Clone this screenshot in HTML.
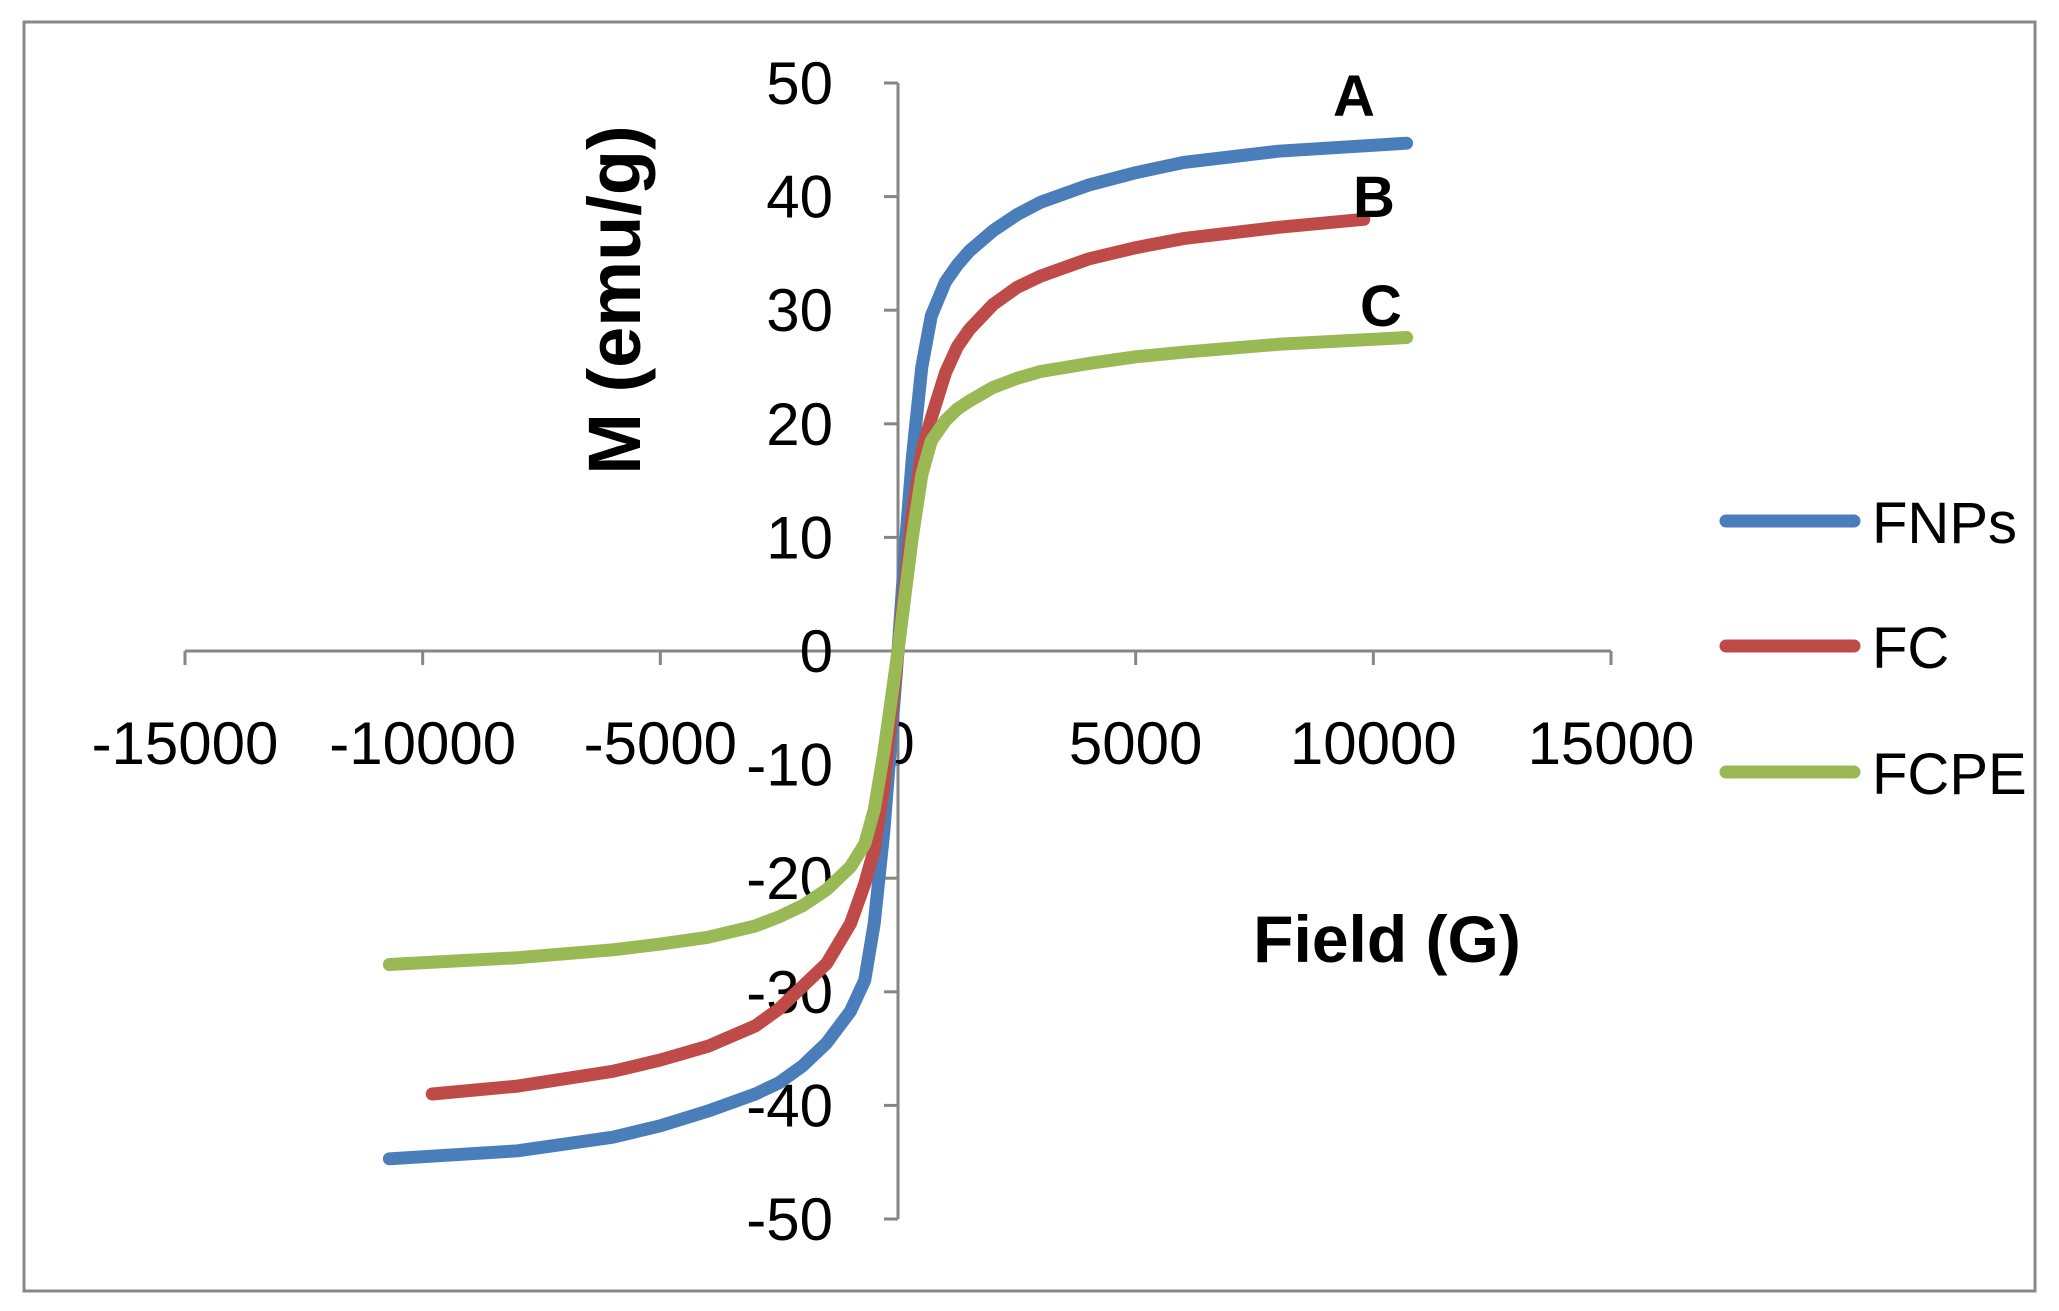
<!DOCTYPE html>
<html><head><meta charset="utf-8"><style>
html,body{margin:0;padding:0;background:#fff;}
svg{display:block;font-family:"Liberation Sans",sans-serif;}
</style></head><body>
<svg id="chart" width="2059" height="1311" viewBox="0 0 2059 1311">
<rect x="24" y="22" width="2011" height="1269" fill="#fff" stroke="#888" stroke-width="3"/>
<g id="axes"></g><g id="series"></g>
<text transform="translate(640,300) rotate(-90)" text-anchor="middle" font-size="74" font-weight="bold">M (emu/g)</text>
<text x="1387" y="962" text-anchor="middle" font-size="66" font-weight="bold">Field (G)</text>
<text x="1354" y="116" text-anchor="middle" font-size="58" font-weight="bold">A</text>
<text x="1374" y="217" text-anchor="middle" font-size="58" font-weight="bold">B</text>
<text x="1381" y="326" text-anchor="middle" font-size="58" font-weight="bold">C</text>
<g id="legend"></g>
</svg>
<script>
const xTicks=[-15000,-10000,-5000,0,5000,10000,15000];
const yTicks=[50,40,30,20,10,0,-10,-20,-30,-40,-50];
const seriesNames=["FNPs","FC","FCPE"];
const fnpsX=[-10700,-8000,-6000,-5000,-4000,-3000,-2500,-2000,-1500,-1000,-700,-500,-300,-150,0,150,300,500,700,1000,1250,1500,2000,2500,3000,4000,5000,6000,8000,10700];
const fnpsY=[-44.7,-44,-42.8,-41.8,-40.5,-39,-38,-36.5,-34.5,-31.7,-29,-24,-16,-8,0,9,17,25,29.5,32.5,34,35.2,37,38.4,39.5,41,42.1,43,44,44.7];
const fcX=[-9800,-8000,-6000,-5000,-4000,-3000,-2500,-2000,-1500,-1000,-700,-500,-300,-150,0,150,300,500,700,1000,1250,1500,2000,2500,3000,4000,5000,6000,8000,9800];
const fcY=[-39,-38.3,-37,-36,-34.8,-33,-31.5,-29.5,-27.5,-24,-20.5,-17.5,-12,-6,0,6,12,17.5,20.5,24.5,26.8,28.3,30.5,32,33,34.5,35.5,36.3,37.3,38];
const fcpeX=[-10700,-8000,-6000,-5000,-4000,-3000,-2500,-2000,-1500,-1000,-700,-500,-300,-150,0,150,300,500,700,1000,1250,1500,2000,2500,3000,4000,5000,6000,8000,10700];
const fcpeY=[-27.6,-27,-26.3,-25.8,-25.2,-24.2,-23.4,-22.4,-21,-19,-17,-14,-9,-4.5,0,5,10,15.5,18.5,20.3,21.3,22,23.2,24,24.6,25.3,25.9,26.3,27,27.6];
const colors=["#4a7ebb","#be4b48","#98b954"];
const NS="http://www.w3.org/2000/svg";
const X=v=>898+v*(1611-185)/30000;
const Y=v=>651-v*(1221-85)/100;
function mk(t,a,p){const e=document.createElementNS(NS,t);for(const k in a)e.setAttribute(k,a[k]);p.appendChild(e);return e;}
const axes=document.getElementById('axes');
let e=mk('line',{x1:X(-15000),x2:X(15000),y1:Y(0),y2:Y(0),stroke:'#868686','stroke-width':3},axes);


e=mk('line',{x1:X(0),x2:X(0),y1:Y(50),y2:Y(-50),stroke:'#868686','stroke-width':3},axes);


xTicks.forEach(v=>{
 let t=mk('line',{x1:X(v),x2:X(v),y1:Y(0),y2:Y(0)+14,stroke:'#868686','stroke-width':3},axes);
 
 
 let l=mk('text',{x:X(v),y:764,'text-anchor':'middle','font-size':60},axes);l.textContent=v;
 
 
});
yTicks.forEach(v=>{
 let t=mk('line',{x1:X(0)-14,x2:X(0),y1:Y(v),y2:Y(v),stroke:'#868686','stroke-width':3},axes);
 
 
 let l=mk('text',{x:833,y:Y(v)+21,'text-anchor':'end','font-size':60},axes);l.textContent=v;
 
 
});
const sg=document.getElementById('series');
[[fnpsX,fnpsY],[fcX,fcY],[fcpeX,fcpeY]].forEach((s,i)=>{
 const d=s[0].map((x,j)=>(j?'L':'M')+X(x).toFixed(1)+','+Y(s[1][j]).toFixed(1)).join(' ');
 const p=mk('path',{d:d,fill:'none',stroke:colors[i],'stroke-width':13,'stroke-linecap':'round','stroke-linejoin':'round'},sg);
 
 
});
const lg=document.getElementById('legend');
const ly=[521,646,772];
seriesNames.forEach((n,i)=>{
 const l=mk('line',{x1:1726,x2:1854,y1:ly[i],y2:ly[i],stroke:colors[i],'stroke-width':13,'stroke-linecap':'round'},lg);
 
 
 const t=mk('text',{x:1872,y:ly[i]+22,'font-size':58},lg);t.textContent=n;
 
 
});
</script>
</body></html>
